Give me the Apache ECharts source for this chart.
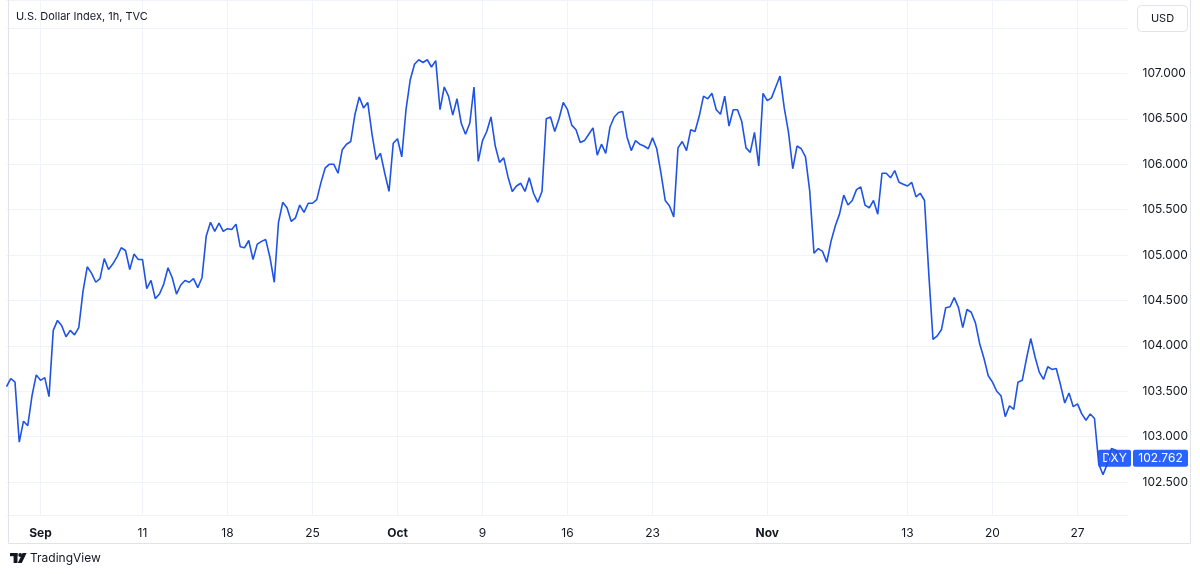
<!DOCTYPE html>
<html>
<head>
<meta charset="utf-8">
<title>U.S. Dollar Index, 1h, TVC</title>
<script src="https://cdn.jsdelivr.net/npm/echarts@6/dist/echarts.min.js"></script>
<style>
  html, body { margin: 0; padding: 0; background: #fff; }
  #main { width: 1200px; height: 574px; }
</style>
</head>
<body>
<div id="main"></div>
<script>
// trading days (weekends skipped, like the TradingView time scale)
var tradingDays = [
  '08-30', '08-31',
  '09-01', '09-04', '09-05', '09-06', '09-07', '09-08', '09-11', '09-12', '09-13', '09-14', '09-15',
  '09-18', '09-19', '09-20', '09-21', '09-22', '09-25', '09-26', '09-27', '09-28', '09-29',
  '10-02', '10-03', '10-04', '10-05', '10-06', '10-09', '10-10', '10-11', '10-12', '10-13',
  '10-16', '10-17', '10-18', '10-19', '10-20', '10-23', '10-24', '10-25', '10-26', '10-27',
  '10-30', '10-31',
  '11-01', '11-02', '11-03', '11-06', '11-07', '11-08', '11-09', '11-10', '11-13', '11-14',
  '11-15', '11-16', '11-17', '11-20', '11-21', '11-22', '11-23', '11-24', '11-27', '11-28',
  '11-29', '11-30'
];
var hours = ['00', '06', '12', '18'];

// DXY, four readings per day
var valuesAug = [103.55, 103.64, 103.60, 102.94, 103.17, 103.12, 103.45, 103.68];
var valuesSep = [
  103.62, 103.65, 103.44, 104.17,
  104.28, 104.22, 104.10, 104.17,
  104.12, 104.20, 104.60, 104.87,
  104.80, 104.70, 104.74, 104.96,
  104.84, 104.90, 104.98, 105.08,
  105.05, 104.84, 105.01, 104.95,
  104.95, 104.63, 104.72, 104.52,
  104.57, 104.68, 104.86, 104.75,
  104.57, 104.67, 104.72, 104.70,
  104.74, 104.64, 104.75, 105.21,
  105.36, 105.26, 105.35, 105.26,
  105.29, 105.28, 105.34, 105.09,
  105.08, 105.16, 104.95, 105.12,
  105.15, 105.17, 104.97, 104.70,
  105.36, 105.58, 105.52, 105.37,
  105.41, 105.55, 105.47, 105.57,
  105.57, 105.61, 105.80, 105.96,
  106.00, 106.00, 105.90, 106.16,
  106.22, 106.25, 106.55, 106.74,
  106.62, 106.68, 106.33, 106.05,
  106.12, 105.90, 105.70, 106.23
];
var valuesOct = [
  106.28, 106.08, 106.60, 106.93,
  107.10, 107.15, 107.12, 107.15,
  107.07, 107.14, 106.60, 106.85,
  106.75, 106.54, 106.72, 106.45,
  106.33, 106.45, 106.85, 106.03,
  106.26, 106.36, 106.52, 106.20,
  106.02, 106.07, 105.86, 105.70,
  105.76, 105.79, 105.70, 105.85,
  105.68, 105.58, 105.70, 106.50,
  106.52, 106.36, 106.50, 106.68,
  106.60, 106.43, 106.38, 106.24,
  106.26, 106.33, 106.40, 106.10,
  106.22, 106.12, 106.41, 106.52,
  106.57, 106.58, 106.30, 106.15,
  106.26, 106.22, 106.20, 106.17,
  106.29, 106.17, 105.90, 105.60,
  105.54, 105.42, 106.18, 106.25,
  106.15, 106.38, 106.36, 106.53,
  106.75, 106.72, 106.78, 106.60,
  106.55, 106.75, 106.42, 106.60,
  106.60, 106.47, 106.18, 106.13,
  106.35, 105.98, 106.78, 106.70
];
var valuesNov = [
  106.73, 106.85, 106.97, 106.62,
  106.35, 105.95, 106.20, 106.17,
  106.08, 105.70, 105.02, 105.07,
  105.04, 104.92, 105.15, 105.32,
  105.45, 105.66, 105.55, 105.60,
  105.72, 105.75, 105.55, 105.52,
  105.60, 105.45, 105.90, 105.90,
  105.85, 105.93, 105.80, 105.78,
  105.76, 105.80, 105.64, 105.68,
  105.60, 104.80, 104.07, 104.11,
  104.18, 104.42, 104.43, 104.53,
  104.42, 104.20, 104.40, 104.37,
  104.25, 104.02, 103.86, 103.67,
  103.60, 103.50, 103.45, 103.22,
  103.34, 103.30, 103.60, 103.62,
  103.86, 104.08, 103.88, 103.71,
  103.63, 103.77, 103.74, 103.75,
  103.57, 103.37, 103.48, 103.33,
  103.36, 103.25, 103.18, 103.25,
  103.20, 102.70, 102.58, 102.70,
  102.87, 102.85, 102.762, null
];

// time scale labels
var tickLabels = {
  '09-01 00': 'Sep', '09-11 00': '11', '09-18 00': '18', '09-25 00': '25',
  '10-02 00': 'Oct', '10-09 00': '9', '10-16 00': '16', '10-23 00': '23',
  '10-31 18': 'Nov', '11-13 00': '13', '11-20 00': '20', '11-27 00': '27'
};
var symbol = 'DXY';
var lastPrice = 102.762;

var categories = [];
for (var i = 0; i < tradingDays.length; i++) {
  for (var j = 0; j < hours.length; j++) {
    categories.push(tradingDays[i] + ' ' + hours[j]);
  }
}
categories = categories.slice(0, (tradingDays.length - 1) * hours.length + 1);
var values = valuesAug.concat(valuesSep, valuesOct, valuesNov);

var FONT = 'Inter, "Noto Sans", sans-serif';
var TEXT = '#131722';
var GRID = '#f0f3fa';
var BLUE = '#2962ff';
var LINE = '#1e53e5';

function isTick (index, value) {
  return tickLabels.hasOwnProperty(value);
}

var chart = echarts.init(document.getElementById('main'));
var option = {
  backgroundColor: '#fff',
  animation: false,
  grid: { left: 6.5, right: 71.5, top: 0, bottom: 59 },
  xAxis: {
    type: 'category',
    data: categories,
    boundaryGap: false,
    axisLine: { show: false },
    axisTick: { show: false },
    splitLine: { show: true, interval: isTick, lineStyle: { color: GRID, width: 1 } },
    axisLabel: {
      interval: isTick,
      margin: 12,
      color: TEXT,
      fontFamily: FONT,
      fontSize: 12,
      formatter: function (value) {
        var t = tickLabels[value];
        return /[A-Z]/.test(t) ? '{m|' + t + '}' : t;
      },
      rich: {
        m: { fontWeight: 'bold', color: TEXT, fontFamily: FONT, fontSize: 12 }
      }
    }
  },
  yAxis: {
    type: 'value',
    position: 'right',
    min: 102.137,
    max: 107.808,
    splitNumber: 11,
    axisLine: { show: false },
    axisTick: { show: false },
    splitLine: { lineStyle: { color: GRID, width: 1 } },
    axisLabel: {
      showMinLabel: false,
      showMaxLabel: false,
      margin: 14,
      color: TEXT,
      fontFamily: FONT,
      fontSize: 12,
      formatter: function (v) {
        if (v > 107.4) return '';
        return v.toFixed(3);
      }
    }
  },
  series: [{
    name: symbol,
    type: 'line',
    data: values,
    showSymbol: false,
    connectNulls: false,
    lineStyle: { color: LINE, width: 1.6 },
    itemStyle: { color: LINE }
  }]
};
chart.setOption(option);

// overlays: title, currency box, last price labels, footer
var py = chart.convertToPixel({ yAxisIndex: 0 }, lastPrice);
chart.setOption({
  graphic: [
    { type: 'line', shape: { x1: 8.5, y1: 0, x2: 8.5, y2: 543.5 }, style: { stroke: '#e0e3eb', lineWidth: 1 }, silent: true },
    { type: 'line', shape: { x1: 8.5, y1: 543.5, x2: 1190.5, y2: 543.5 }, style: { stroke: '#e0e3eb', lineWidth: 1 }, silent: true },
    { type: 'line', shape: { x1: 1190.5, y1: 0, x2: 1190.5, y2: 543.5 }, style: { stroke: '#e0e3eb', lineWidth: 1 }, silent: true },
    {
      type: 'text', left: 16, top: 11,
      style: { text: 'U.S. Dollar Index, 1h, TVC', fill: TEXT, font: '11px ' + FONT }
    },
    {
      type: 'rect', shape: { x: 1137.5, y: 5.5, width: 50, height: 26, r: 4 },
      style: { fill: '#fff', stroke: '#e0e3eb', lineWidth: 1 }
    },
    {
      type: 'text', x: 1162.5, y: 18.5,
      style: { text: 'USD', fill: TEXT, font: '11px ' + FONT, align: 'center', verticalAlign: 'middle' }
    },
    {
      type: 'rect', shape: { x: 1098, y: py - 8.5, width: 33, height: 17, r: 2 },
      style: { fill: BLUE }
    },
    {
      type: 'text', x: 1114.5, y: py,
      style: { text: symbol, fill: '#fff', font: '12px ' + FONT, align: 'center', verticalAlign: 'middle' }
    },
    {
      type: 'rect', shape: { x: 1133, y: py - 8.5, width: 55, height: 17, r: 2 },
      style: { fill: BLUE }
    },
    {
      type: 'text', x: 1160.5, y: py,
      style: { text: lastPrice.toFixed(3), fill: '#fff', font: '12px ' + FONT, align: 'center', verticalAlign: 'middle' }
    },
    // TradingView logo
    { type: 'rect', shape: { x: 10, y: 553, width: 7.5, height: 3.2 }, style: { fill: TEXT } },
    { type: 'rect', shape: { x: 13.6, y: 553, width: 3.9, height: 10 }, style: { fill: TEXT } },
    { type: 'circle', shape: { cx: 20.2, cy: 555, r: 1.9 }, style: { fill: TEXT } },
    { type: 'polygon', shape: { points: [[22.6, 553], [26.6, 553], [21.8, 563], [17.8, 563]] }, style: { fill: TEXT } },
    {
      type: 'text', left: 30, top: 552,
      style: { text: 'TradingView', fill: TEXT, font: '12px ' + FONT }
    }
  ]
});
</script>
</body>
</html>
